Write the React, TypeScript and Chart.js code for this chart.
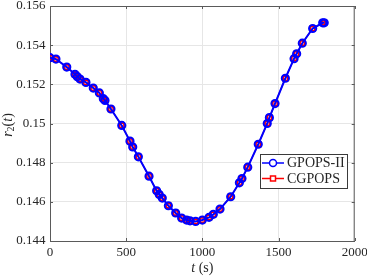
import React, { useEffect, useRef } from "react";
import { Chart, registerables } from "chart.js";

Chart.register(...registerables);

const tValues = [0, 39, 110, 164, 179, 197, 236, 284, 324, 350, 361, 400, 471, 525, 543, 580, 650, 700, 717, 737, 777, 825, 864, 897, 919, 956, 1000, 1044, 1072, 1116, 1186, 1243, 1260, 1298, 1367, 1426, 1440, 1477, 1545, 1602, 1619, 1656, 1724, 1790, 1800];
const gpopsR2 = [0.15336, 0.15329, 0.15288, 0.15251, 0.15239, 0.15227, 0.1521, 0.15181, 0.15156, 0.15127, 0.15118, 0.15074, 0.1499, 0.1491, 0.1488, 0.1483, 0.14731, 0.14656, 0.14638, 0.14619, 0.1458, 0.14543, 0.14517, 0.14507, 0.14503, 0.145, 0.14507, 0.14521, 0.14536, 0.14563, 0.14626, 0.14697, 0.14719, 0.14777, 0.14894, 0.15, 0.1503, 0.15102, 0.15231, 0.15331, 0.15356, 0.1541, 0.15485, 0.15514, 0.15514];
const cgpopsR2 = [0.15336, 0.15329, 0.15288, 0.15251, 0.15239, 0.15227, 0.1521, 0.15181, 0.15156, 0.15127, 0.15118, 0.15074, 0.1499, 0.1491, 0.1488, 0.1483, 0.14731, 0.14656, 0.14638, 0.14619, 0.1458, 0.14543, 0.14517, 0.14507, 0.14503, 0.145, 0.14507, 0.14521, 0.14536, 0.14563, 0.14626, 0.14697, 0.14719, 0.14777, 0.14894, 0.15, 0.1503, 0.15102, 0.15231, 0.15331, 0.15356, 0.1541, 0.15485, 0.15514, 0.15514];
const xTicks = [0, 500, 1000, 1500, 2000];
const yTicks = [0.144, 0.146, 0.148, 0.15, 0.152, 0.154, 0.156];
const seriesNames = ["GPOPS-II", "CGPOPS"];

const FONT = "'Liberation Serif', 'Times New Roman', serif";
const BLUE = "#0000ff";
const RED = "#ff0000";
const AXIS = "#5a5a5a";

function drawPieces(ctx: CanvasRenderingContext2D, pieces: { t: string; f: string; dy?: number }[], cx: number, cy: number, angle: number) {
  ctx.save();
  ctx.translate(cx, cy);
  ctx.rotate(angle);
  let total = 0;
  for (const p of pieces) {
    ctx.font = p.f;
    total += ctx.measureText(p.t).width;
  }
  let x = -total / 2;
  ctx.textBaseline = "middle";
  ctx.textAlign = "left";
  ctx.fillStyle = "#262626";
  for (const p of pieces) {
    ctx.font = p.f;
    ctx.fillText(p.t, x, p.dy || 0);
    x += ctx.measureText(p.t).width;
  }
  ctx.restore();
}

const decorPlugin = {
  id: "decor",
  afterDatasetsDraw(chart: any) {
    const ctx = chart.ctx as CanvasRenderingContext2D;
    const a = chart.chartArea;
    const xs = chart.scales.x;
    const ys = chart.scales.y;
    ctx.save();
    ctx.strokeStyle = AXIS;
    ctx.lineWidth = 1;
    ctx.beginPath();
    ctx.moveTo(a.left, a.top + 0.5);
    ctx.lineTo(a.right, a.top + 0.5);
    ctx.moveTo(a.right - 0.5, a.top);
    ctx.lineTo(a.right - 0.5, a.bottom);
    for (const v of xTicks) {
      const px = Math.round(xs.getPixelForValue(v)) + 0.5;
      ctx.moveTo(px, a.bottom);
      ctx.lineTo(px, a.bottom - 3);
      ctx.moveTo(px, a.top);
      ctx.lineTo(px, a.top + 3);
    }
    for (const v of yTicks) {
      const py = Math.round(ys.getPixelForValue(v)) + 0.5;
      ctx.moveTo(a.left, py);
      ctx.lineTo(a.left + 3, py);
      ctx.moveTo(a.right, py);
      ctx.lineTo(a.right - 3, py);
    }
    ctx.stroke();
    ctx.restore();
  },
  afterDraw(chart: any) {
    const ctx = chart.ctx as CanvasRenderingContext2D;
    const a = chart.chartArea;
    drawPieces(ctx, [
      { t: "t", f: `italic 14px ${FONT}` },
      { t: " (s)", f: `14px ${FONT}` },
    ], (a.left + a.right) / 2, 268, 0);
    drawPieces(ctx, [
      { t: "r", f: `italic 14px ${FONT}` },
      { t: "2", f: `10px ${FONT}`, dy: 3 },
      { t: "(", f: `14px ${FONT}` },
      { t: "t", f: `italic 14px ${FONT}` },
      { t: ")", f: `14px ${FONT}` },
    ], 8, 125, -Math.PI / 2);

    const lx = 260, ly = 154, lw = 87, lh = 34;
    ctx.save();
    ctx.fillStyle = "#ffffff";
    ctx.fillRect(lx, ly, lw, lh);
    ctx.strokeStyle = "#3a3a3a";
    ctx.lineWidth = 1;
    ctx.strokeRect(lx + 0.5, ly + 0.5, lw, lh);
    const rows = [ly + 9, ly + 24.5];
    const colors = [BLUE, RED];
    for (let i = 0; i < 2; i++) {
      const y = rows[i];
      ctx.strokeStyle = colors[i];
      ctx.lineWidth = 1.5;
      ctx.beginPath();
      ctx.moveTo(lx + 2, y);
      ctx.lineTo(lx + 24, y);
      ctx.stroke();
      ctx.beginPath();
      if (i === 0) {
        ctx.arc(lx + 13, y, 3.5, 0, Math.PI * 2);
      } else {
        ctx.rect(lx + 13 - 2.5, y - 2.5, 5, 5);
      }
      ctx.fillStyle = "#ffffff";
      ctx.fill();
      ctx.stroke();
      ctx.fillStyle = "#262626";
      ctx.font = `14px ${FONT}`;
      ctx.textBaseline = "middle";
      ctx.textAlign = "left";
      ctx.fillText(seriesNames[i], lx + 27, y + 0.5);
    }
    ctx.restore();
  },
};

function zeroPad(s: any) {
  s.paddingTop = 0;
  s.paddingBottom = 0;
  s.paddingLeft = 0;
  s.paddingRight = 0;
}

export default function App() {
  const ref = useRef<HTMLCanvasElement>(null);
  useEffect(() => {
    if (!ref.current) return;
    const chart = new Chart(ref.current, {
      type: "line",
      data: {
        datasets: [
          {
            label: seriesNames[0],
            data: tValues.map((t, i) => ({ x: t, y: gpopsR2[i] })),
            borderColor: BLUE,
            borderWidth: 2,
            pointStyle: "circle",
            pointRadius: 3.6,
            pointBorderWidth: 2,
            pointBorderColor: BLUE,
            pointBackgroundColor: "rgba(0,0,0,0)",
            tension: 0,
          },
          {
            label: seriesNames[1],
            data: tValues.map((t, i) => ({ x: t, y: cgpopsR2[i] })),
            borderColor: RED,
            borderWidth: 1.2,
            pointStyle: "rect",
            pointRadius: 3.2,
            pointBorderWidth: 1.8,
            pointBorderColor: RED,
            pointBackgroundColor: "rgba(0,0,0,0)",
            tension: 0,
          },
        ],
      },
      options: {
        responsive: false,
        animation: false,
        layout: { padding: { top: 5.5, right: 12.3, left: 0, bottom: 0 } },
        plugins: { legend: { display: false }, tooltip: { enabled: false } },
        scales: {
          x: {
            type: "linear",
            min: 0,
            max: 2000,
            afterBuildTicks: (s: any) => { s.ticks = xTicks.map((v) => ({ value: v })); },
            afterFit: (s: any) => { s.height = 36; zeroPad(s); },
            ticks: { padding: 4, color: "#262626", font: { family: FONT, size: 13 }, maxRotation: 0, callback: (v: any) => String(v) },
            grid: { color: "#e6e6e6", drawTicks: false, lineWidth: 1 },
            border: { color: AXIS, width: 1 },
          },
          y: {
            type: "linear",
            min: 0.144,
            max: 0.156,
            afterBuildTicks: (s: any) => { s.ticks = yTicks.map((v) => ({ value: v })); },
            afterFit: (s: any) => { s.width = 50; zeroPad(s); },
            ticks: { padding: 4.5, color: "#262626", font: { family: FONT, size: 13 }, callback: (v: any) => String(Number(Number(v).toFixed(3))) },
            grid: { color: "#e6e6e6", drawTicks: false, lineWidth: 1 },
            border: { color: AXIS, width: 1 },
          },
        },
      },
      plugins: [decorPlugin],
    });
    return () => chart.destroy();
  }, []);
  return (
    <div style={{ position: "absolute", left: 0, top: 0, width: 367, height: 277, background: "#fff" }}>
      <canvas ref={ref} width={367} height={277} style={{ display: "block" }} />
    </div>
  );
}
